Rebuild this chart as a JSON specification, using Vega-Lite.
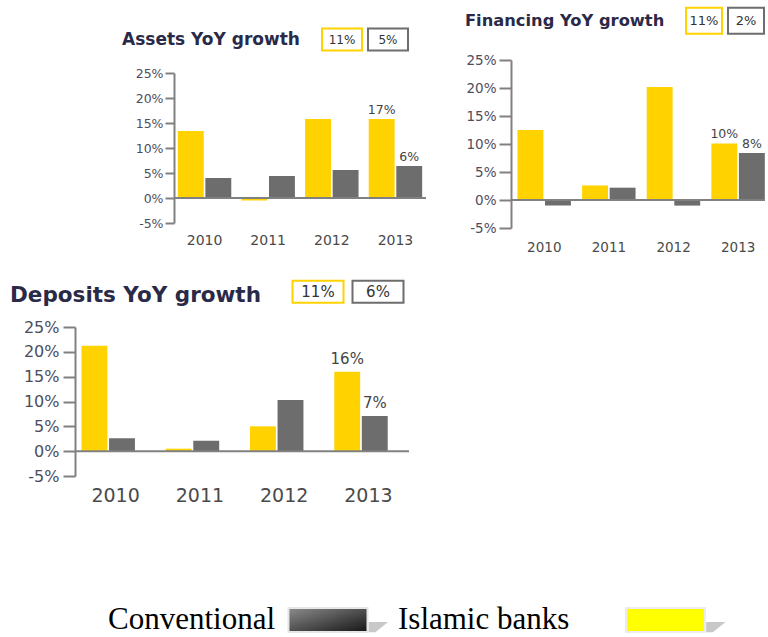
{
  "$schema": "https://vega.github.io/schema/vega-lite/v6.json",
  "padding": {"left": 10, "top": 2, "right": 0, "bottom": 0},
  "config": {"font": "DejaVu Sans", "view": {"stroke": null}},
  "datasets": {
    "assets": [
      {"year": "2010", "series": "Islamic banks", "value": 13.4, "label": ""},
      {"year": "2010", "series": "Conventional", "value": 4.0, "label": ""},
      {"year": "2011", "series": "Islamic banks", "value": -0.5, "label": ""},
      {"year": "2011", "series": "Conventional", "value": 4.4, "label": ""},
      {"year": "2012", "series": "Islamic banks", "value": 15.8, "label": ""},
      {"year": "2012", "series": "Conventional", "value": 5.6, "label": ""},
      {"year": "2013", "series": "Islamic banks", "value": 15.8, "label": "17%"},
      {"year": "2013", "series": "Conventional", "value": 6.4, "label": "6%"}
    ],
    "financing": [
      {"year": "2010", "series": "Islamic banks", "value": 12.5, "label": ""},
      {"year": "2010", "series": "Conventional", "value": -1.0, "label": ""},
      {"year": "2011", "series": "Islamic banks", "value": 2.6, "label": ""},
      {"year": "2011", "series": "Conventional", "value": 2.2, "label": ""},
      {"year": "2012", "series": "Islamic banks", "value": 20.2, "label": ""},
      {"year": "2012", "series": "Conventional", "value": -1.0, "label": ""},
      {"year": "2013", "series": "Islamic banks", "value": 10.1, "label": "10%"},
      {"year": "2013", "series": "Conventional", "value": 8.4, "label": "8%"}
    ],
    "deposits": [
      {"year": "2010", "series": "Islamic banks", "value": 21.2, "label": ""},
      {"year": "2010", "series": "Conventional", "value": 2.6, "label": ""},
      {"year": "2011", "series": "Islamic banks", "value": 0.5, "label": ""},
      {"year": "2011", "series": "Conventional", "value": 2.1, "label": ""},
      {"year": "2012", "series": "Islamic banks", "value": 5.0, "label": ""},
      {"year": "2012", "series": "Conventional", "value": 10.3, "label": ""},
      {"year": "2013", "series": "Islamic banks", "value": 16.0, "label": "16%"},
      {"year": "2013", "series": "Conventional", "value": 7.1, "label": "7%"}
    ]
  },
  "spacing": 22,
  "vconcat": [
    {
      "spacing": 38,
      "hconcat": [
        {"width": 9, "height": 1, "data": {"values": []}, "mark": "point"},
        {
          "spacing": 0,
          "vconcat": [
            {"width": 10, "height": 22, "data": {"values": []}, "mark": "point"},
            {
              "width": 252, "height": 150,
              "title": {"text": "Assets YoY growth", "anchor": "start", "frame": "group", "dx": -52, "dy": 20, "baseline": "middle", "offset": -12, "font": "DejaVu Sans", "fontSize": 17, "fontWeight": "bold", "color": "#2a2a48"},
              "resolve": {"scale": {"x": "independent", "y": "independent"}},
              "layer": [
                {
                  "data": {"name": "assets"},
                  "layer": [
                    {
                      "mark": {"type": "bar"},
                      "encoding": {
                        "x": {"field": "year", "type": "nominal", "title": null, "scale": {"paddingInner": 0.16, "paddingOuter": 0.06}, "axis": {"domain": false, "ticks": false, "labelAngle": 0, "labelPadding": 10, "labelFontSize": 14, "labelColor": "#4a4a4a", "labelFont": "DejaVu Sans"}},
                        "y": {"field": "value", "type": "quantitative", "title": null, "scale": {"domain": [-5, 25], "nice": false, "zero": false}, "axis": {"values": [-5, 0, 5, 10, 15, 20, 25], "tickCount": 7, "labelExpr": "datum.value + '%'", "labelOverlap": false, "grid": false, "domainColor": "#808080", "domainWidth": 2, "tickColor": "#808080", "tickWidth": 2, "tickSize": 9, "labelPadding": 2, "labelFontSize": 12.5, "labelColor": "#4d4d5e", "labelFont": "DejaVu Sans"}},
                        "xOffset": {"field": "series", "type": "nominal", "sort": ["Islamic banks", "Conventional"]},
                        "color": {"field": "series", "type": "nominal", "scale": {"domain": ["Islamic banks", "Conventional"], "range": ["#FFD200", "#6D6D6D"]}, "legend": null}
                      }
                    },
                    {
                      "transform": [{"filter": "datum.label != ''"}],
                      "mark": {"type": "text", "baseline": "bottom", "dy": -2, "fontSize": 12.5, "color": "#444444"},
                      "encoding": {
                        "x": {"field": "year", "type": "nominal", "title": null},
                        "y": {"field": "value", "type": "quantitative", "title": null},
                        "xOffset": {"field": "series", "type": "nominal", "sort": ["Islamic banks", "Conventional"]},
                        "text": {"field": "label"}
                      }
                    },
                    {
                      "data": {"values": [{}]},
                      "mark": {"type": "rule", "color": "#808080", "strokeWidth": 2},
                      "encoding": {"y": {"datum": 0, "type": "quantitative"}}
                    }
                  ]
                },
                {
                  "data": {"values": [{"series": "Islamic banks", "text": "11%"}, {"series": "Conventional", "text": "5%"}]},
                  "encoding": {
                    "x": {"field": "series", "type": "nominal", "scale": {"type": "point", "domain": ["Islamic banks", "Conventional"], "range": [168, 214], "padding": 0}, "axis": null},
                    "y": {"datum": 31.7, "type": "quantitative", "scale": {"domain": [-5, 25], "nice": false, "zero": false}, "axis": null}
                  },
                  "layer": [
                    {"mark": {"type": "point", "shape": "M-1,-0.55H1V0.55H-1Z", "size": 1600, "filled": false, "strokeWidth": 2, "opacity": 1},
                     "encoding": {"color": {"field": "series", "type": "nominal", "scale": {"domain": ["Islamic banks", "Conventional"], "range": ["#FFD200", "#6D6D6D"]}, "legend": null}}},
                    {"mark": {"type": "text", "fontSize": 12, "color": "#333333"}, "encoding": {"text": {"field": "text"}}}
                  ]
                }
              ]
            }
          ]
        },
        {
          "spacing": 0,
          "vconcat": [
            {"width": 10, "height": 1, "data": {"values": []}, "mark": "point"},
            {
              "width": 254, "height": 168,
              "title": {"text": "Financing YoY growth", "anchor": "start", "frame": "group", "dx": -46, "dy": 19, "baseline": "middle", "offset": -14, "font": "DejaVu Sans", "fontSize": 16.3, "fontWeight": "bold", "color": "#2a2a48"},
              "resolve": {"scale": {"x": "independent", "y": "independent"}},
              "layer": [
                {
                  "data": {"name": "financing"},
                  "layer": [
                    {
                      "mark": {"type": "bar"},
                      "encoding": {
                        "x": {"field": "year", "type": "nominal", "title": null, "scale": {"paddingInner": 0.17, "paddingOuter": 0.05, "align": 1}, "axis": {"domain": false, "ticks": false, "labelAngle": 0, "labelPadding": 12, "labelFontSize": 13.5, "labelColor": "#4a4a4a", "labelFont": "DejaVu Sans"}},
                        "y": {"field": "value", "type": "quantitative", "title": null, "scale": {"domain": [-5, 25], "nice": false, "zero": false}, "axis": {"values": [-5, 0, 5, 10, 15, 20, 25], "tickCount": 7, "labelExpr": "datum.value + '%'", "labelOverlap": false, "grid": false, "domainColor": "#808080", "domainWidth": 2, "tickColor": "#808080", "tickWidth": 2, "tickSize": 12, "labelPadding": 3, "labelFontSize": 13.5, "labelColor": "#4d4d5e", "labelFont": "DejaVu Sans"}},
                        "xOffset": {"field": "series", "type": "nominal", "sort": ["Islamic banks", "Conventional"]},
                        "color": {"field": "series", "type": "nominal", "scale": {"domain": ["Islamic banks", "Conventional"], "range": ["#FFD200", "#6D6D6D"]}, "legend": null}
                      }
                    },
                    {
                      "transform": [{"filter": "datum.label != ''"}],
                      "mark": {"type": "text", "baseline": "bottom", "dy": -2, "fontSize": 12.5, "color": "#444444"},
                      "encoding": {
                        "x": {"field": "year", "type": "nominal", "title": null},
                        "y": {"field": "value", "type": "quantitative", "title": null},
                        "xOffset": {"field": "series", "type": "nominal", "sort": ["Islamic banks", "Conventional"]},
                        "text": {"field": "label"}
                      }
                    },
                    {
                      "data": {"values": [{}]},
                      "mark": {"type": "rule", "color": "#808080", "strokeWidth": 2},
                      "encoding": {"y": {"datum": 0, "type": "quantitative"}}
                    }
                  ]
                },
                {
                  "data": {"values": [{"series": "Islamic banks", "text": "11%"}, {"series": "Conventional", "text": "2%"}]},
                  "encoding": {
                    "x": {"field": "series", "type": "nominal", "scale": {"type": "point", "domain": ["Islamic banks", "Conventional"], "range": [193, 235], "padding": 0}, "axis": null},
                    "y": {"datum": 32.0, "type": "quantitative", "scale": {"domain": [-5, 25], "nice": false, "zero": false}, "axis": null}
                  },
                  "layer": [
                    {"mark": {"type": "point", "shape": "M-1,-0.722H1V0.722H-1Z", "size": 1296, "filled": false, "strokeWidth": 2, "opacity": 1},
                     "encoding": {"color": {"field": "series", "type": "nominal", "scale": {"domain": ["Islamic banks", "Conventional"], "range": ["#FFD200", "#6D6D6D"]}, "legend": null}}},
                    {"mark": {"type": "text", "fontSize": 13, "color": "#333333"}, "encoding": {"text": {"field": "text"}}}
                  ]
                }
              ]
            }
          ]
        }
      ]
    },
    {
      "width": 334, "height": 149,
      "title": {"text": "Deposits YoY growth", "anchor": "start", "frame": "group", "dx": -65, "dy": 29, "baseline": "middle", "offset": -12, "font": "DejaVu Sans", "fontSize": 21.5, "fontWeight": "bold", "color": "#2a2a48"},
      "resolve": {"scale": {"x": "independent", "y": "independent"}},
      "layer": [
        {
          "data": {"name": "deposits"},
          "layer": [
            {
              "mark": {"type": "bar"},
              "encoding": {
                "x": {"field": "year", "type": "nominal", "title": null, "scale": {"paddingInner": 0.19, "paddingOuter": 0.077}, "axis": {"domain": false, "ticks": false, "labelAngle": 0, "labelPadding": 10, "labelFontSize": 19, "labelColor": "#4a4a4a", "labelFont": "DejaVu Sans"}},
                "y": {"field": "value", "type": "quantitative", "title": null, "scale": {"domain": [-5, 25], "nice": false, "zero": false}, "axis": {"values": [-5, 0, 5, 10, 15, 20, 25], "tickCount": 7, "labelExpr": "datum.value + '%'", "labelOverlap": false, "grid": false, "domainColor": "#808080", "domainWidth": 2, "tickColor": "#808080", "tickWidth": 2, "tickSize": 12, "labelPadding": 4, "labelFontSize": 16, "labelColor": "#4d4d5e", "labelFont": "DejaVu Sans"}},
                "xOffset": {"field": "series", "type": "nominal", "sort": ["Islamic banks", "Conventional"], "scale": {"paddingInner": 0.06}},
                "color": {"field": "series", "type": "nominal", "scale": {"domain": ["Islamic banks", "Conventional"], "range": ["#FFD200", "#6D6D6D"]}, "legend": null}
              }
            },
            {
              "transform": [{"filter": "datum.label != ''"}],
              "mark": {"type": "text", "baseline": "bottom", "dy": -5, "fontSize": 15, "color": "#444444"},
              "encoding": {
                "x": {"field": "year", "type": "nominal", "title": null},
                "y": {"field": "value", "type": "quantitative", "title": null},
                "xOffset": {"field": "series", "type": "nominal", "sort": ["Islamic banks", "Conventional"], "scale": {"paddingInner": 0.06}},
                "text": {"field": "label"}
              }
            },
            {
              "data": {"values": [{}]},
              "mark": {"type": "rule", "color": "#808080", "strokeWidth": 2},
              "encoding": {"y": {"datum": 0, "type": "quantitative"}}
            }
          ]
        },
        {
          "data": {"values": [{"series": "Islamic banks", "text": "11%"}, {"series": "Conventional", "text": "6%"}]},
          "encoding": {
            "x": {"field": "series", "type": "nominal", "scale": {"type": "point", "domain": ["Islamic banks", "Conventional"], "range": [243, 303], "padding": 0}, "axis": null},
            "y": {"datum": 32.1, "type": "quantitative", "scale": {"domain": [-5, 25], "nice": false, "zero": false}, "axis": null}
          },
          "layer": [
            {"mark": {"type": "point", "shape": "M-1,-0.431H1V0.431H-1Z", "size": 2601, "filled": false, "strokeWidth": 2, "opacity": 1},
             "encoding": {"color": {"field": "series", "type": "nominal", "scale": {"domain": ["Islamic banks", "Conventional"], "range": ["#FFD200", "#6D6D6D"]}, "legend": null}}},
            {"mark": {"type": "text", "fontSize": 15, "color": "#333333"}, "encoding": {"text": {"field": "text"}}}
          ]
        }
      ]
    },
    {"width": 10, "height": 54, "data": {"values": []}, "mark": "point"},
    {
      "width": 655, "height": 30,
      "data": {"values": [{"series": "Conventional", "label": "Conventional"}, {"series": "Islamic banks", "label": "Islamic banks"}]},
      "resolve": {"scale": {"x": "independent"}},
      "layer": [
        {
          "mark": {"type": "text", "align": "left", "baseline": "middle", "font": "Liberation Serif", "fontSize": 31, "color": "#000000"},
          "encoding": {
            "x": {"field": "series", "type": "nominal", "scale": {"type": "point", "domain": ["Conventional", "Islamic banks"], "range": [33, 323], "padding": 0}, "axis": null},
            "text": {"field": "label"}
          }
        },
        {
          "encoding": {
            "x": {"field": "series", "type": "nominal", "scale": {"type": "point", "domain": ["Conventional", "Islamic banks"], "range": [253, 590.5], "padding": 0}, "axis": null}
          },
          "layer": [
            {
              "transform": [{"filter": "datum.series === 'Conventional'"}],
              "mark": {"type": "point", "shape": "M-1,-0.304H1V0.304H-1Z", "size": 6241, "filled": true, "opacity": 1, "stroke": "#e6e6e6", "strokeWidth": 2,
                "fill": {"gradient": "linear", "x1": 0, "y1": 0, "x2": 1, "y2": 1, "stops": [{"offset": 0, "color": "#8c8c8c"}, {"offset": 1, "color": "#151515"}]}}
            },
            {
              "transform": [{"filter": "datum.series === 'Islamic banks'"}],
              "mark": {"type": "point", "shape": "M-1,-0.304H1V0.304H-1Z", "size": 6241, "filled": true, "opacity": 1, "stroke": "#ececec", "strokeWidth": 2, "fill": "#FFFF00"}
            },
            {
              "mark": {"type": "point", "shape": "M1.03,0.05L1.52,0.05L1.2,0.31L1.03,0.31Z", "size": 6241, "filled": true, "opacity": 1, "fill": "#c8c8c8", "strokeWidth": 0}
            }
          ]
        }
      ]
    }
  ]
}
